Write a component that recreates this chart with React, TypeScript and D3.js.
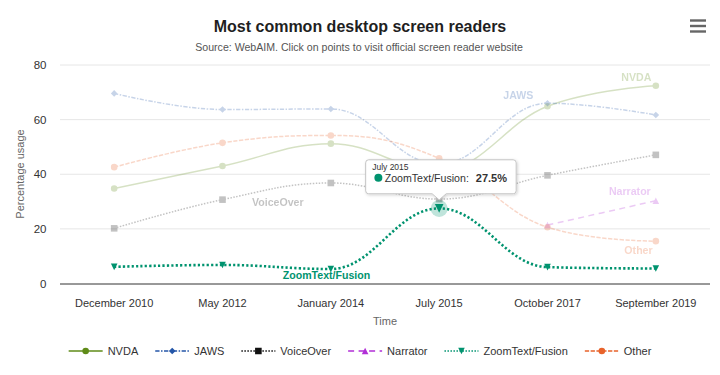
import React, { useMemo } from 'react';
import * as d3 from 'd3';

// ---------- data ----------
const categories = ['December 2010', 'May 2012', 'January 2014', 'July 2015', 'October 2017', 'September 2019'];
const seriesNames = ['NVDA', 'JAWS', 'VoiceOver', 'Narrator', 'ZoomText/Fusion', 'Other'];
const nvda = [34.8, 43.0, 51.2, 41.4, 64.9, 72.4];
const jaws = [69.6, 63.7, 63.9, 43.7, 66.0, 61.7];
const voiceOver = [20.2, 30.7, 36.8, 30.9, 39.6, 47.1];
const narrator: (number | null)[] = [null, null, null, null, 21.4, 30.3];
const zoomText = [6.1, 6.8, 5.3, 27.5, 6.0, 5.5];
const other = [42.6, 51.5, 54.2, 45.8, 20.6, 15.5];
const yTicks = [0, 20, 40, 60, 80];
const seriesValues: (number | null)[][] = [nvda, jaws, voiceOver, narrator, zoomText, other];

// series label anchors (category-index units, value units)
const labelIndex = [4.82, 3.73, 1.51, 4.76, 1.96, 4.84];
const labelValue = [75.6, 69.0, 29.6, 33.9, 2.85, 12.0];

const activeSeries = 4;
const hoverPoint = 3;

// ---------- styles ----------
const colors = ['#5f8b18', '#2456a8', '#111111', '#b12fd6', '#00936f', '#e8632b'];
const dashArr: (string | null)[] = [null, '4.3,1.5,1.5,1.5', '1.5,1.5', '6,4.5', '2.2,2.2', '4.3,1.5'];
const markers = ['circle', 'diamond', 'square', 'triangle', 'triangle-down', 'circle'];

const W = 720, H = 375;
const FONT = "'Liberation Sans', Arial, Helvetica, sans-serif";

function markerPath(type: string, cx: number, cy: number, r: number): string {
  const p = d3.path();
  if (type === 'circle') {
    p.arc(cx, cy, r, 0, Math.PI * 2);
  } else if (type === 'square') {
    p.rect(cx - r, cy - r, 2 * r, 2 * r);
  } else if (type === 'diamond') {
    p.moveTo(cx, cy - r); p.lineTo(cx + r, cy); p.lineTo(cx, cy + r); p.lineTo(cx - r, cy); p.closePath();
  } else if (type === 'triangle') {
    p.moveTo(cx, cy - r); p.lineTo(cx + r, cy + r); p.lineTo(cx - r, cy + r); p.closePath();
  } else {
    p.moveTo(cx - r, cy - r); p.lineTo(cx + r, cy - r); p.lineTo(cx, cy + r); p.closePath();
  }
  return p.toString();
}

// Highcharts-style spline
function splinePath(pts: [number, number][]): string {
  const n = pts.length;
  const p = d3.path();
  if (!n) return '';
  const smoothing = 1.5, denom = smoothing + 1;
  const ctrl = pts.map(() => ({ lx: 0, ly: 0, rx: 0, ry: 0, ok: false }));
  for (let i = 1; i < n - 1; i++) {
    const [x, y] = pts[i];
    const [lastX, lastY] = pts[i - 1];
    const [nextX, nextY] = pts[i + 1];
    let lx = (smoothing * x + lastX) / denom;
    let ly = (smoothing * y + lastY) / denom;
    const rx = (smoothing * x + nextX) / denom;
    let ry = (smoothing * y + nextY) / denom;
    if (rx !== lx) {
      const corr = ((ry - ly) * (rx - x)) / (rx - lx) + y - ry;
      ly += corr; ry += corr;
    }
    if (ly > lastY && ly > y) { ly = Math.max(lastY, y); ry = 2 * y - ly; }
    else if (ly < lastY && ly < y) { ly = Math.min(lastY, y); ry = 2 * y - ly; }
    if (ry > nextY && ry > y) { ry = Math.max(nextY, y); ly = 2 * y - ry; }
    else if (ry < nextY && ry < y) { ry = Math.min(nextY, y); ly = 2 * y - ry; }
    ctrl[i] = { lx, ly, rx, ry, ok: true };
  }
  p.moveTo(pts[0][0], pts[0][1]);
  for (let i = 1; i < n; i++) {
    const prev = pts[i - 1];
    const c1x = ctrl[i - 1].ok ? ctrl[i - 1].rx : prev[0];
    const c1y = ctrl[i - 1].ok ? ctrl[i - 1].ry : prev[1];
    const c2x = ctrl[i].ok ? ctrl[i].lx : pts[i][0];
    const c2y = ctrl[i].ok ? ctrl[i].ly : pts[i][1];
    p.bezierCurveTo(c1x, c1y, c2x, c2y, pts[i][0], pts[i][1]);
  }
  return p.toString();
}

export default function App() {
  const x = d3.scaleBand<string>().domain(categories).range([60, 710]);
  const cx = (c: string) => (x(c) as number) + x.bandwidth() / 2;
  const xi = d3.scaleLinear().domain([0, categories.length - 1]).range([cx(categories[0]), cx(categories[categories.length - 1])]);
  const y = d3.scaleLinear().domain([0, 80]).range([283.5, 65]);

  const legendFont = 11;
  const widths = useMemo(() => {
    const ctx = document.createElement('canvas').getContext('2d');
    if (!ctx) return seriesNames.map((s) => s.length * 6);
    ctx.font = `${legendFont}px ${FONT}`;
    return seriesNames.map((s) => ctx.measureText(s).width);
  }, []);
  const symW = 34, symPad = 5, itemDist = 17;
  const totalW = widths.reduce((a, b) => a + b, 0) + seriesNames.length * (symW + symPad) + (seriesNames.length - 1) * itemDist;
  let lx = 360 - totalW / 2;
  const legendItems = seriesNames.map((name, i) => {
    const item = { name, x: lx, i };
    lx += symW + symPad + widths[i] + itemDist;
    return item;
  });

  const order = [0, 1, 2, 3, 5, 4];
  const hpX = cx(categories[hoverPoint]);
  const hpY = y(zoomText[hoverPoint]);
  const bx = hpX - 73.5, by = hpY - 48.6, bw = 150.5, bh = 34;

  return (
    <svg width={W} height={H} style={{ position: 'absolute', left: 0, top: 0, background: '#fff' }} fontFamily={FONT}>
      <defs>
        <filter id="shadow" x="-20%" y="-30%" width="140%" height="170%">
          <feDropShadow dx="1" dy="1" stdDeviation="1.5" floodColor="#000" floodOpacity="0.18" />
        </filter>
      </defs>
      <rect width={W} height={H} fill="#fff" />
      {/* title */}
      <text x={360} y={31.5} textAnchor="middle" fontSize={16} fontWeight="bold" fill="#1f1f1f">Most common desktop screen readers</text>
      <text x={359} y={51} textAnchor="middle" fontSize={10.6} fill="#555">Source: WebAIM. Click on points to visit official screen reader website</text>
      {/* menu */}
      <g stroke="#666" strokeWidth={2.4}>
        {[20.5, 26, 31.5].map((yy) => <line key={yy} x1={690} x2={706} y1={yy} y2={yy} />)}
      </g>
      {/* grid */}
      {yTicks.map((t) => (
        <g key={t}>
          {t !== 0 && <line x1={60} x2={710} y1={y(t)} y2={y(t)} stroke="#e6e6e6" strokeWidth={1} />}
          <text x={46.5} y={y(t) + 4} textAnchor="end" fontSize={11.5} fill="#333">{t}</text>
        </g>
      ))}
      <line x1={60} x2={710} y1={y(0) + 0.5} y2={y(0) + 0.5} stroke="#333" strokeWidth={1} />
      {categories.map((c) => (
        <text key={c} x={cx(c)} y={307} textAnchor="middle" fontSize={11} fill="#333">{c}</text>
      ))}
      <text x={385} y={325} textAnchor="middle" fontSize={11} fill="#666">Time</text>
      <text transform={`translate(24,174) rotate(-90)`} textAnchor="middle" fontSize={11} fill="#666">Percentage usage</text>

      {/* series */}
      {order.map((si) => {
        const vals = seriesValues[si];
        const pts: [number, number][] = [];
        vals.forEach((v, j) => { if (v !== null) pts.push([cx(categories[j]), y(v)]); });
        const active = si === activeSeries;
        return (
          <g key={si} opacity={active ? 1 : 0.25}>
            <path d={splinePath(pts)} fill="none" stroke={colors[si]} strokeWidth={active ? 2.6 : 1.5}
              strokeDasharray={dashArr[si] ?? undefined} />
            {active && (
              <circle cx={hpX} cy={hpY} r={8.5} fill={colors[si]} opacity={0.25} />
            )}
            {pts.map((pt, k) => {
              const isHover = active && Math.abs(pt[0] - hpX) < 1;
              return <path key={k} d={markerPath(markers[si], pt[0], pt[1], isHover ? 4.3 : 3.3)} fill={colors[si]} />;
            })}
            <text x={xi(labelIndex[si])} y={y(labelValue[si])} dy="0.35em" textAnchor="middle" fontSize={10.6}
              fontWeight="bold" fill={colors[si]}>{seriesNames[si]}</text>
          </g>
        );
      })}

      {/* tooltip */}
      <g filter="url(#shadow)">
        <path d={`M${bx + 3},${by} H${bx + bw - 3} Q${bx + bw},${by} ${bx + bw},${by + 3} V${by + bh - 3} Q${bx + bw},${by + bh} ${bx + bw - 3},${by + bh} H${hpX + 7} L${hpX},${hpY - 8.5} L${hpX - 7},${by + bh} H${bx + 3} Q${bx},${by + bh} ${bx},${by + bh - 3} V${by + 3} Q${bx},${by} ${bx + 3},${by} Z`}
          fill="#fff" stroke="#c4c4c4" strokeWidth={1} />
      </g>
      <text x={bx + 6.5} y={by + 10.2} fontSize={8.5} fill="#333">{categories[hoverPoint]}</text>
      <circle cx={bx + 12.7} cy={by + 18} r={4} fill={colors[activeSeries]} />
      <text x={bx + 19} y={by + 22} fontSize={10.6} fill="#333">
        <tspan>{seriesNames[activeSeries]}: </tspan>
        <tspan dx={4} fontWeight="bold" fontSize={11}>{zoomText[hoverPoint]}%</tspan>
      </text>

      {/* legend */}
      {legendItems.map((it) => {
        const ly = 351;
        return (
          <g key={it.name}>
            <line x1={it.x} x2={it.x + symW} y1={ly} y2={ly} stroke={colors[it.i]} strokeWidth={1.5}
              strokeDasharray={it.i === 4 ? '1.5,1.5' : (dashArr[it.i] ?? undefined)} />
            <path d={markerPath(markers[it.i], it.x + symW / 2, ly, 3.3)} fill={colors[it.i]} />
            <text x={it.x + symW + symPad} y={ly + 4} fontSize={legendFont} fill="#333">{it.name}</text>
          </g>
        );
      })}
    </svg>
  );
}
